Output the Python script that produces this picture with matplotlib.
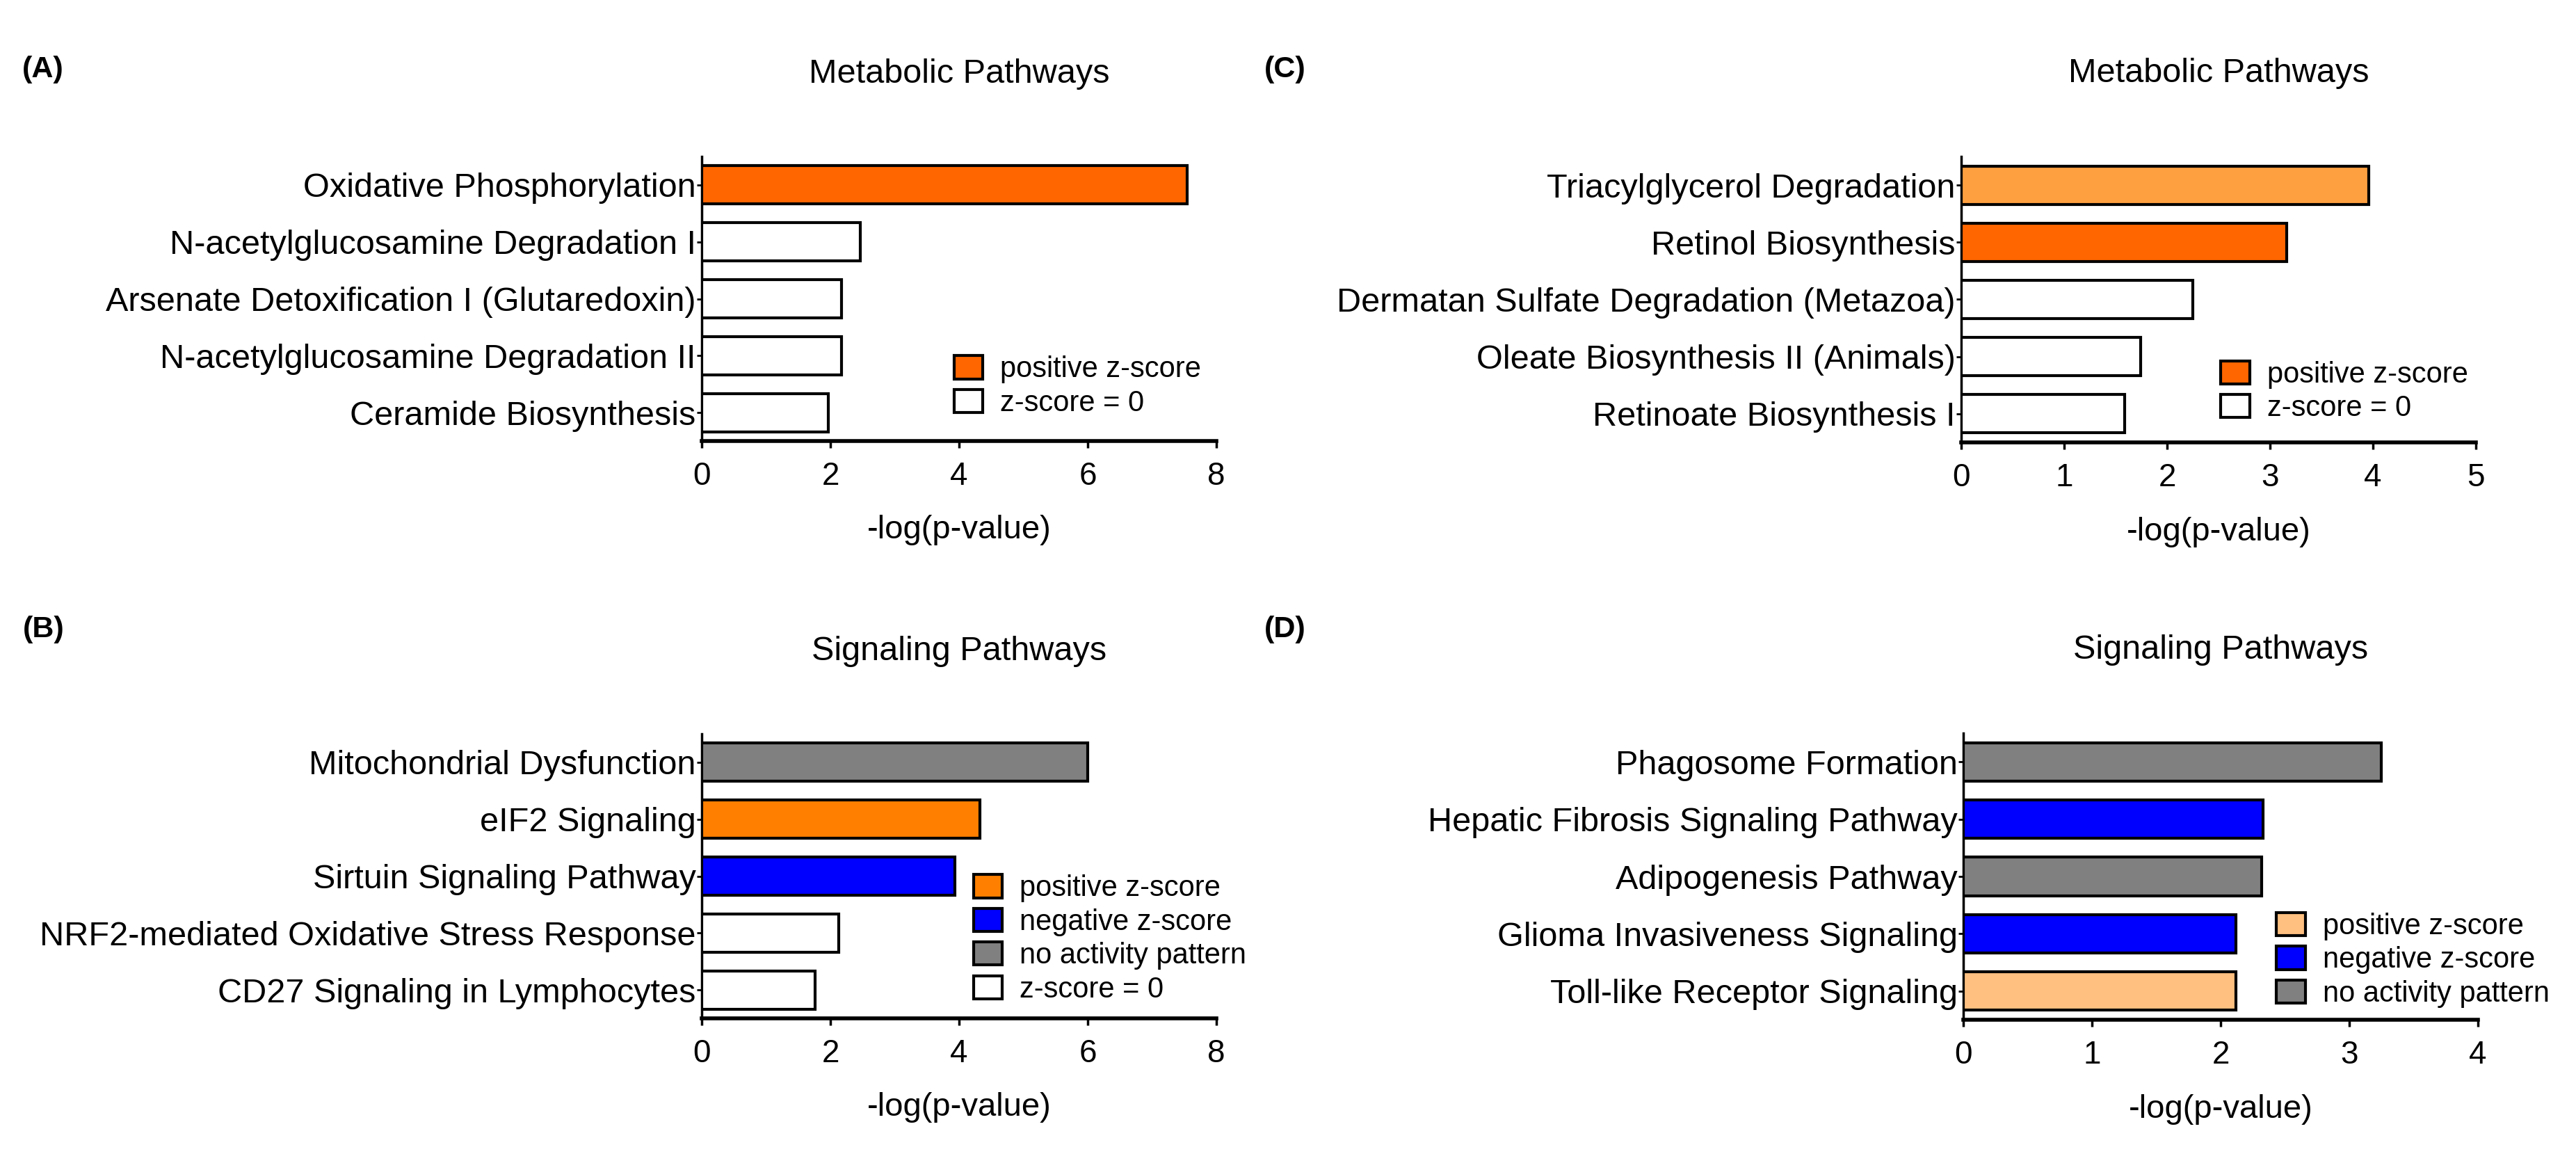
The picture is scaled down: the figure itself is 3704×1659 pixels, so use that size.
import matplotlib

matplotlib.use("Agg")
import matplotlib.pyplot as plt
from matplotlib.patches import Patch

plt.rcParams["font.family"] = ["Liberation Sans", "DejaVu Sans"]

W, H = 3704, 1659

# ---- data ----
A_PATHWAYS = ["Oxidative Phosphorylation", "N-acetylglucosamine Degradation I",
              "Arsenate Detoxification I (Glutaredoxin)", "N-acetylglucosamine Degradation II",
              "Ceramide Biosynthesis"]
A_VALUES = [7.55, 2.46, 2.17, 2.17, 1.97]
A_ZSCORE = ["pos", "zero", "zero", "zero", "zero"]

B_PATHWAYS = ["Mitochondrial Dysfunction", "eIF2 Signaling", "Sirtuin Signaling Pathway",
              "NRF2-mediated Oxidative Stress Response", "CD27 Signaling in Lymphocytes"]
B_VALUES = [6.0, 4.32, 3.93, 2.13, 1.76]
B_ZSCORE = ["none", "pos", "neg", "zero", "zero"]

C_PATHWAYS = ["Triacylglycerol Degradation", "Retinol Biosynthesis",
              "Dermatan Sulfate Degradation (Metazoa)", "Oleate Biosynthesis II (Animals)",
              "Retinoate Biosynthesis I"]
C_VALUES = [3.96, 3.16, 2.25, 1.74, 1.59]
C_ZSCORE = ["pos_light", "pos", "zero", "zero", "zero"]

D_PATHWAYS = ["Phagosome Formation", "Hepatic Fibrosis Signaling Pathway", "Adipogenesis Pathway",
              "Glioma Invasiveness Signaling", "Toll-like Receptor Signaling"]
D_VALUES = [3.25, 2.33, 2.32, 2.12, 2.12]
D_ZSCORE = ["none", "neg", "none", "neg", "pale"]

COLORS = {"pos": "#FF6600", "pos_light": "#FFA040", "pale": "#FFC080", "orange": "#FF8000",
          "neg": "#0000FF", "none": "#808080", "zero": "#FFFFFF"}

LEGEND_LABELS = {"pos": "positive z-score", "neg": "negative z-score",
                 "none": "no activity pattern", "zero": "z-score = 0"}

fig = plt.figure(figsize=(W / 100, H / 100), dpi=100)


def axes_px(x0, y0, x1, y1):
    return fig.add_axes([x0 / W, 1 - y1 / H, (x1 - x0) / W, (y1 - y0) / H])


def panel(ax, names, values, colors, xmax, title, legend, legend_anchor, title_x=0.5):
    y = range(len(names))
    ax.barh(y, values, height=0.67, color=colors, edgecolor="black", linewidth=3, zorder=3)
    ax.set_ylim(len(names) - 0.5, -0.5)
    ax.set_xlim(0, xmax)
    ax.set_xticks(range(0, xmax + 1, 2 if xmax > 5 else 1))
    ax.set_yticks(list(y))
    ax.set_yticklabels(names, fontsize=35)
    ax.tick_params(axis="x", labelsize=33, length=7, width=2.5, pad=14)
    ax.tick_params(axis="y", length=5, width=2, pad=1)
    for s in ("top", "right"):
        ax.spines[s].set_visible(False)
    ax.spines["left"].set_linewidth(2.5)
    ax.spines["bottom"].set_linewidth(4)
    ax.set_xlabel("-log(p-value)", fontsize=34)
    ax.xaxis.set_label_coords(0.5, -0.313)
    ax.xaxis.label.set_va("center")
    ax.text(title_x, 1.29, title, transform=ax.transAxes, ha="center", va="center", fontsize=35)
    handles = [Patch(facecolor=c, edgecolor="black", linewidth=3, label=l) for c, l in legend]
    ax.legend(handles=handles, loc="upper left", bbox_to_anchor=legend_anchor, frameon=False,
              fontsize=30, handlelength=1.0, handleheight=0.85, handletextpad=0.6,
              labelspacing=0.2, borderpad=0, borderaxespad=0)


axA = axes_px(1009, 225, 1749, 634)
panel(axA, A_PATHWAYS, A_VALUES, [COLORS[z] for z in A_ZSCORE], 8, "Metabolic Pathways",
      [(COLORS["pos"], LEGEND_LABELS["pos"]), (COLORS["zero"], LEGEND_LABELS["zero"])], (0.49, 0.30))

axB = axes_px(1009, 1055, 1749, 1464)
b_colors = [COLORS["orange"] if z == "pos" else COLORS[z] for z in B_ZSCORE]
panel(axB, B_PATHWAYS, B_VALUES, b_colors, 8, "Signaling Pathways",
      [(COLORS["orange"], LEGEND_LABELS["pos"]), (COLORS["neg"], LEGEND_LABELS["neg"]),
       (COLORS["none"], LEGEND_LABELS["none"]), (COLORS["zero"], LEGEND_LABELS["zero"])], (0.528, 0.505))

axC = axes_px(2820, 225, 3560, 636)
panel(axC, C_PATHWAYS, C_VALUES, [COLORS[z] for z in C_ZSCORE], 5, "Metabolic Pathways",
      [(COLORS["pos"], LEGEND_LABELS["pos"]), (COLORS["zero"], LEGEND_LABELS["zero"])], (0.504, 0.285))

axD = axes_px(2823, 1054, 3563, 1466)
panel(axD, D_PATHWAYS, D_VALUES, [COLORS[z] for z in D_ZSCORE], 4, "Signaling Pathways",
      [(COLORS["pale"], LEGEND_LABELS["pos"]), (COLORS["neg"], LEGEND_LABELS["neg"]),
       (COLORS["none"], LEGEND_LABELS["none"])], (0.608, 0.374))

for lab, x, y in [("(A)", 32, 100), ("(B)", 33, 905), ("(C)", 1818, 100), ("(D)", 1818, 905)]:
    fig.text(x / W, 1 - y / H, lab, fontsize=31, fontweight="bold", ha="left", va="center")

fig.savefig("out.png", dpi=100)
